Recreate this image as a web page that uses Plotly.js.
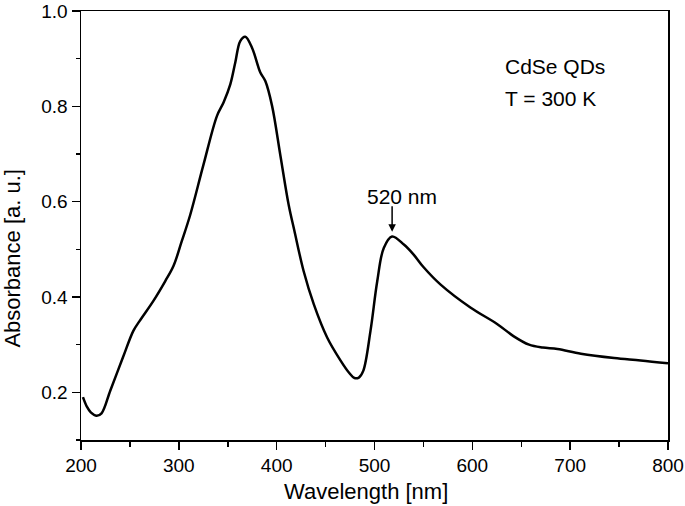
<!DOCTYPE html>
<html>
<head>
<meta charset="utf-8">
<script src="https://cdn.plot.ly/plotly-3.0.1.min.js"></script>
<style>
  html, body { margin: 0; padding: 0; background: #fff; }
  #chart { width: 685px; height: 506px; }
</style>
</head>
<body>
<div id="chart"></div>
<script>
const FONT = "Liberation Sans, Arial, sans-serif";
const INK = "#000000";

// absorption spectrum
const wavelength = [202, 206, 210, 216, 221, 230, 243, 253.5, 260, 274, 286, 294.5, 303, 311.6,
  325, 339, 345.7, 352.6, 357.7, 362.8, 367.9, 374.8, 383.3, 388.4, 395.3, 403.8, 412.3,
  418, 427.6, 437.9, 451.6, 465.2, 474, 479.5, 484, 488.5, 495.9, 502.8, 509.5, 518, 530, 540,
  550, 567.6, 598, 625.6, 642, 658, 672, 687, 711, 745, 772, 800];
const absorbance = [0.190, 0.170, 0.158, 0.151, 0.156, 0.204, 0.274, 0.329, 0.350, 0.392, 0.433,
  0.465, 0.517, 0.572, 0.676, 0.780, 0.808, 0.846, 0.892, 0.937, 0.946, 0.923, 0.871, 0.853,
  0.801, 0.697, 0.593, 0.540, 0.454, 0.385, 0.315, 0.267, 0.241, 0.230, 0.231, 0.245, 0.329,
  0.433, 0.503, 0.527, 0.510, 0.489, 0.463, 0.426, 0.378, 0.343, 0.318, 0.300, 0.294, 0.291,
  0.281, 0.272, 0.267, 0.261];

const peakLabel = "520 nm";
const peakX = 518;
const peakY = 0.537;
const sampleLines = ["CdSe QDs", "T = 300 K"];
const xTitle = "Wavelength [nm]";
const yTitle = "Absorbance [a. u.]";

const trace = {
    x: wavelength,
    y: absorbance,
    type: "scatter",
    mode: "lines",
    line: { color: INK, width: 2.5, shape: "spline", smoothing: 1 },
    hoverinfo: "none",
};

const axisBase = {
    showline: true,
    linecolor: INK,
    linewidth: 1.5,
    mirror: true,
    ticks: "outside",
    ticklen: 8,
    tickwidth: 1.5,
    tickcolor: INK,
    showgrid: false,
    zeroline: false,
    tickfont: { family: FONT, size: 19, color: INK },
};

const textFont = { family: FONT, size: 21, color: INK };

const layout = {
    width: 685,
    height: 506,
    margin: { l: 81, r: 17, t: 11, b: 66 },
    paper_bgcolor: "#ffffff",
    plot_bgcolor: "#ffffff",
    showlegend: false,
    font: { family: FONT, color: INK },
    xaxis: {
        ...axisBase,
        range: [200, 800],
        dtick: 100,
        minor: { dtick: 50, ticks: "outside", ticklen: 5, tickwidth: 1.5, tickcolor: INK, showgrid: false },
    },
    yaxis: {
        ...axisBase,
        range: [0.1, 1.0],
        tick0: 0.2,
        dtick: 0.2,
        tickformat: ".1f",
        minor: { dtick: 0.1, tick0: 0.1, ticks: "outside", ticklen: 4, tickwidth: 1.5, tickcolor: INK, showgrid: false },
    },
    annotations: [
        {
            x: 0.4855, y: -0.121, xref: "paper", yref: "paper",
            xanchor: "center", yanchor: "middle",
            text: xTitle, showarrow: false, font: { ...textFont, size: 22 },
        },
        {
            x: -0.1167, y: 0.424, xref: "paper", yref: "paper",
            xanchor: "center", yanchor: "middle",
            text: yTitle, textangle: -90, showarrow: false, font: { ...textFont, size: 22 },
        },
        {
            x: peakX + 10, y: 0.61, xref: "x", yref: "y",
            text: peakLabel, showarrow: false, font: textFont,
        },
        {
            x: peakX, y: peakY, xref: "x", yref: "y",
            text: "", showarrow: true, ax: 0, ay: -27,
            arrowhead: 2, arrowsize: 1, arrowwidth: 1.5, arrowcolor: INK,
        },
        {
            x: 0.719, y: 0.870, xref: "paper", yref: "paper",
            xanchor: "left", yanchor: "middle",
            text: sampleLines[0], showarrow: false, font: textFont,
        },
        {
            x: 0.719, y: 0.795, xref: "paper", yref: "paper",
            xanchor: "left", yanchor: "middle",
            text: sampleLines[1], showarrow: false, font: textFont,
        },
    ],
};

Plotly.newPlot("chart", [trace], layout, { displayModeBar: false, staticPlot: true });
</script>
</body>
</html>
